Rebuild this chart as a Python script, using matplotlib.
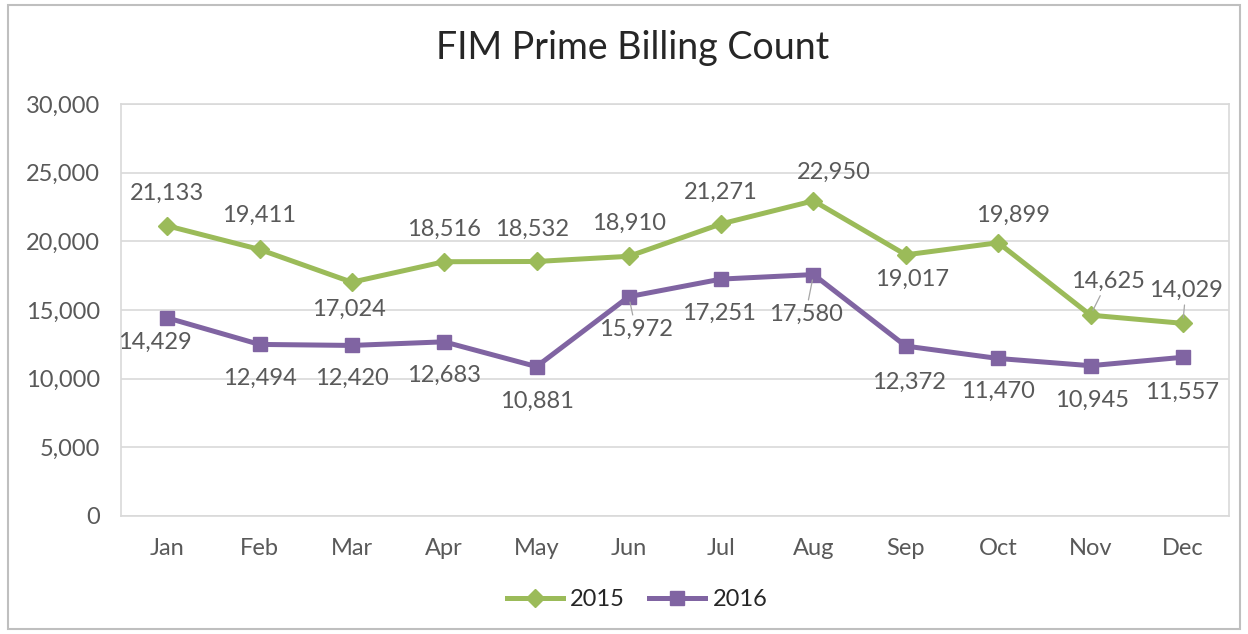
"""
FIM Prime Billing Count, 2015 vs 2016 by month
"""

import matplotlib
matplotlib.use('Agg')
import matplotlib.pyplot as plt
from matplotlib.patches import Rectangle
import numpy as np

plt.rcParams['font.family'] = ['Lato', 'DejaVu Sans']

### Data
months = ['Jan','Feb','Mar','Apr','May','Jun','Jul','Aug','Sep','Oct','Nov','Dec']
count_2015 = [21133,19411,17024,18516,18532,18910,21271,22950,19017,19899,14625,14029]
count_2016 = [14429,12494,12420,12683,10881,15972,17251,17580,12372,11470,10945,11557]
yticks = [0,5000,10000,15000,20000,25000,30000]

### Label offsets in pixels (dx,dy) -- layout only
off_2015 = [(0,32),(0,34),(-3,-27),(0,32),(-4,32),(0,33),(0,32),(20,28),
            (6,-25),(15,27),(17,34),(3,33)]
off_2016 = [(-12,-25),(0,-34),(0,-33),(0,-34),(0,-35),(7,-33),(-2,-34),(-8,-40),
            (3,-36),(0,-33),(2,-35),(-1,-35)]
leader_2015 = [10,11]
leader_2016 = [5,7]

green = '#9BBB59'
purple = '#8064A2'
textc = '#595959'
gridc = '#D9D9D9'

fig = plt.figure(figsize=(12.48,6.34),dpi=100)
fig.patches.append(Rectangle((8/1248,5/634),1232/1248,624/634,transform=fig.transFigure,
                             fill=False,edgecolor='#BFBFBF',linewidth=1.5))
ax = fig.add_axes([121/1248,118/634,1108/1248,412/634])

x = np.arange(len(months))
ax.plot(x,count_2015,color=green,lw=3.6,marker='D',ms=9,label='2015',zorder=3)
ax.plot(x,count_2016,color=purple,lw=3.6,marker='s',ms=10,label='2016',zorder=3)

def put_labels(vals,offs,leaders):
    for i,(v,(dx,dy)) in enumerate(zip(vals,offs)):
        kw = {}
        if i in leaders:
            kw['arrowprops'] = dict(arrowstyle='-',color='#A6A6A6',lw=0.9,
                                    shrinkA=1,shrinkB=4)
        ax.annotate('{:,}'.format(v),xy=(i,v),xytext=(dx,dy),textcoords='offset pixels',
                    ha='center',va='center',fontsize=17,color=textc,zorder=4,**kw)

put_labels(count_2015,off_2015,leader_2015)
put_labels(count_2016,off_2016,leader_2016)

ax.set_xlim(-0.5,11.5)
ax.set_ylim(0,30000)
ax.set_xticks(x)
ax.set_xticklabels(months)
ax.set_yticks(yticks)
ax.set_yticklabels(['{:,}'.format(t) for t in yticks])
ax.tick_params(axis='both',length=0,labelsize=17,colors=textc)
ax.tick_params(axis='y',pad=15)
ax.tick_params(axis='x',pad=16)
ax.grid(axis='y',color=gridc,lw=1.2)
ax.set_axisbelow(True)
for s in ax.spines.values():
    s.set_color(gridc)
    s.set_linewidth(1.2)

fig.text(633/1248,1-48/634,'FIM Prime Billing Count',ha='center',va='center',
         fontsize=27,color='#262626')

leg = fig.legend(loc='center',bbox_to_anchor=(637/1248,1-600/634),ncol=2,frameon=False,
                 fontsize=17,handlelength=2.4,columnspacing=1.0,handletextpad=0.3)
for t in leg.get_texts():
    t.set_color('#262626')

plt.savefig('out.png',dpi=100)
